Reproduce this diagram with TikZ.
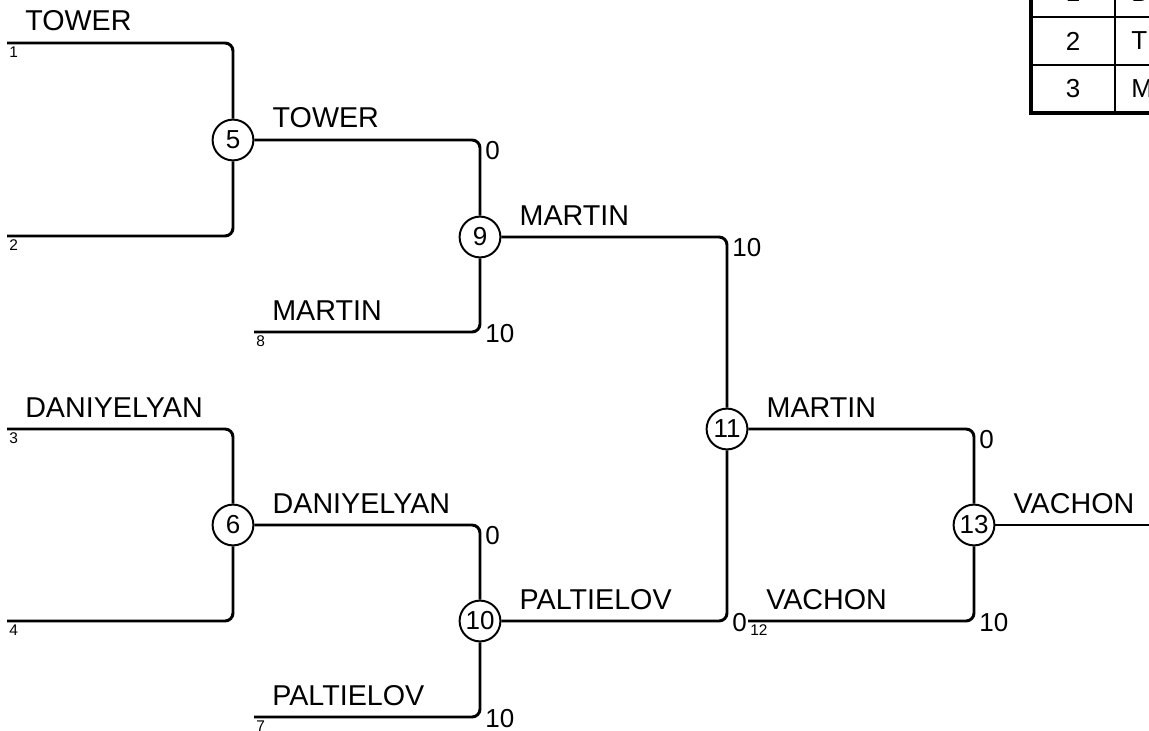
\documentclass[tikz,border=0pt]{standalone}
\usepackage{fontspec}
\setmainfont{Liberation Sans}
\newcommand{\namefont}{\fontsize{20.4}{23}\selectfont}
\newcommand{\scorefont}{\fontsize{18.5}{21}\selectfont}
\newcommand{\seedfont}{\fontsize{11}{12}\selectfont}
\tikzset{
  bline/.style={line width=2.1pt, rounded corners=0.2cm},
  bout/.style={draw, circle, line width=1.4pt, fill=white, minimum size=1.02cm, inner sep=0pt, font=\scorefont},
  namelbl/.style={anchor=base west, inner sep=0pt, xshift=0.42cm, yshift=0.3cm, font=\namefont},
  topscore/.style={anchor=base west, inner sep=0pt, xshift=0.1cm, yshift=-0.475cm, font=\scorefont},
  botscore/.style={anchor=base west, inner sep=0pt, xshift=0.1cm, yshift=-0.25cm, font=\scorefont},
  seedno/.style={anchor=base west, inner sep=0pt, xshift=0.02cm, yshift=-0.37cm, font=\seedfont},
  tline/.style={line width=1.4pt},
  tframe/.style={line width=3pt},
  tcell/.style={inner sep=0pt, font=\scorefont}
}

\begin{document}
\begin{tikzpicture}[x=0.025cm, y=-0.025cm]
  \useasboundingbox (0,0) rectangle (1149,730);
  \clip (0,0) rectangle (1149,730);
  % bouts
  \node[bout] (m5) at (233,140) {5};
  \node[bout] (m9) at (480,237) {9};
  \node[bout] (m6) at (233,525) {6};
  \node[bout] (m10) at (480,621) {10};
  \node[bout] (m11) at (727,429) {11};
  \node[bout] (m13) at (974,525) {13};
  % entry points
  \coordinate (s1) at (7,43);
  \coordinate (s2) at (7,236);
  \coordinate (s3) at (7,429);
  \coordinate (s4) at (7,621);
  \coordinate (s8) at (254,332);
  \coordinate (s7) at (254,717);
  \coordinate (s12) at (748,621);
  \coordinate (win) at (1149,525);
  % first round
  \draw[bline] (s1) -| node[namelbl, pos=0] {TOWER} node[seedno, pos=0] {1} (m5);
  \draw[bline] (s2) -| node[seedno, pos=0] {2} (m5);
  \draw[bline] (s3) -| node[namelbl, pos=0] {DANIYELYAN} node[seedno, pos=0] {3} (m6);
  \draw[bline] (s4) -| node[seedno, pos=0] {4} (m6);
  % second round
  \draw[bline] (m5) -| node[namelbl, pos=0] {TOWER} node[topscore, pos=.5] {0} (m9);
  \draw[bline] (s8) -| node[namelbl, pos=0] {MARTIN} node[seedno, pos=0] {8} node[botscore, pos=.5] {10} (m9);
  \draw[bline] (m6) -| node[namelbl, pos=0] {DANIYELYAN} node[topscore, pos=.5] {0} (m10);
  \draw[bline] (s7) -| node[namelbl, pos=0] {PALTIELOV} node[seedno, pos=0] {7} node[botscore, pos=.5] {10} (m10);
  % semi and final
  \draw[bline] (m9) -| node[namelbl, pos=0] {MARTIN} node[topscore, pos=.5] {10} (m11);
  \draw[bline] (m10) -| node[namelbl, pos=0] {PALTIELOV} node[botscore, pos=.5] {0} (m11);
  \draw[bline] (m11) -| node[namelbl, pos=0] {MARTIN} node[topscore, pos=.5] {0} (m13);
  \draw[bline] (s12) -| node[namelbl, pos=0] {VACHON} node[seedno, pos=0] {12} node[botscore, pos=.5] {10} (m13);
  \draw[bline] (m13) -- node[namelbl, pos=0] {VACHON} (win);
  % ranking table
  \draw[tline] (1115,-100) -- (1115,113);
  \draw[tline] (1031,17) -- (1250,17);
  \draw[tline] (1031,65) -- (1250,65);
  \draw[tframe] (1031,-100) rectangle (1250,113);
  \node[tcell] (r1) at (1073,-7) {1};
  \node[tcell] (r2) at (1073,41) {2};
  \node[tcell] (r3) at (1073,89) {3};
  \node[tcell, anchor=west] (r1n) at (1131,-7) {D};
  \node[tcell, anchor=west] (r2n) at (1131,41) {T};
  \node[tcell, anchor=west] (r3n) at (1131,89) {M};
\end{tikzpicture}
\end{document}
